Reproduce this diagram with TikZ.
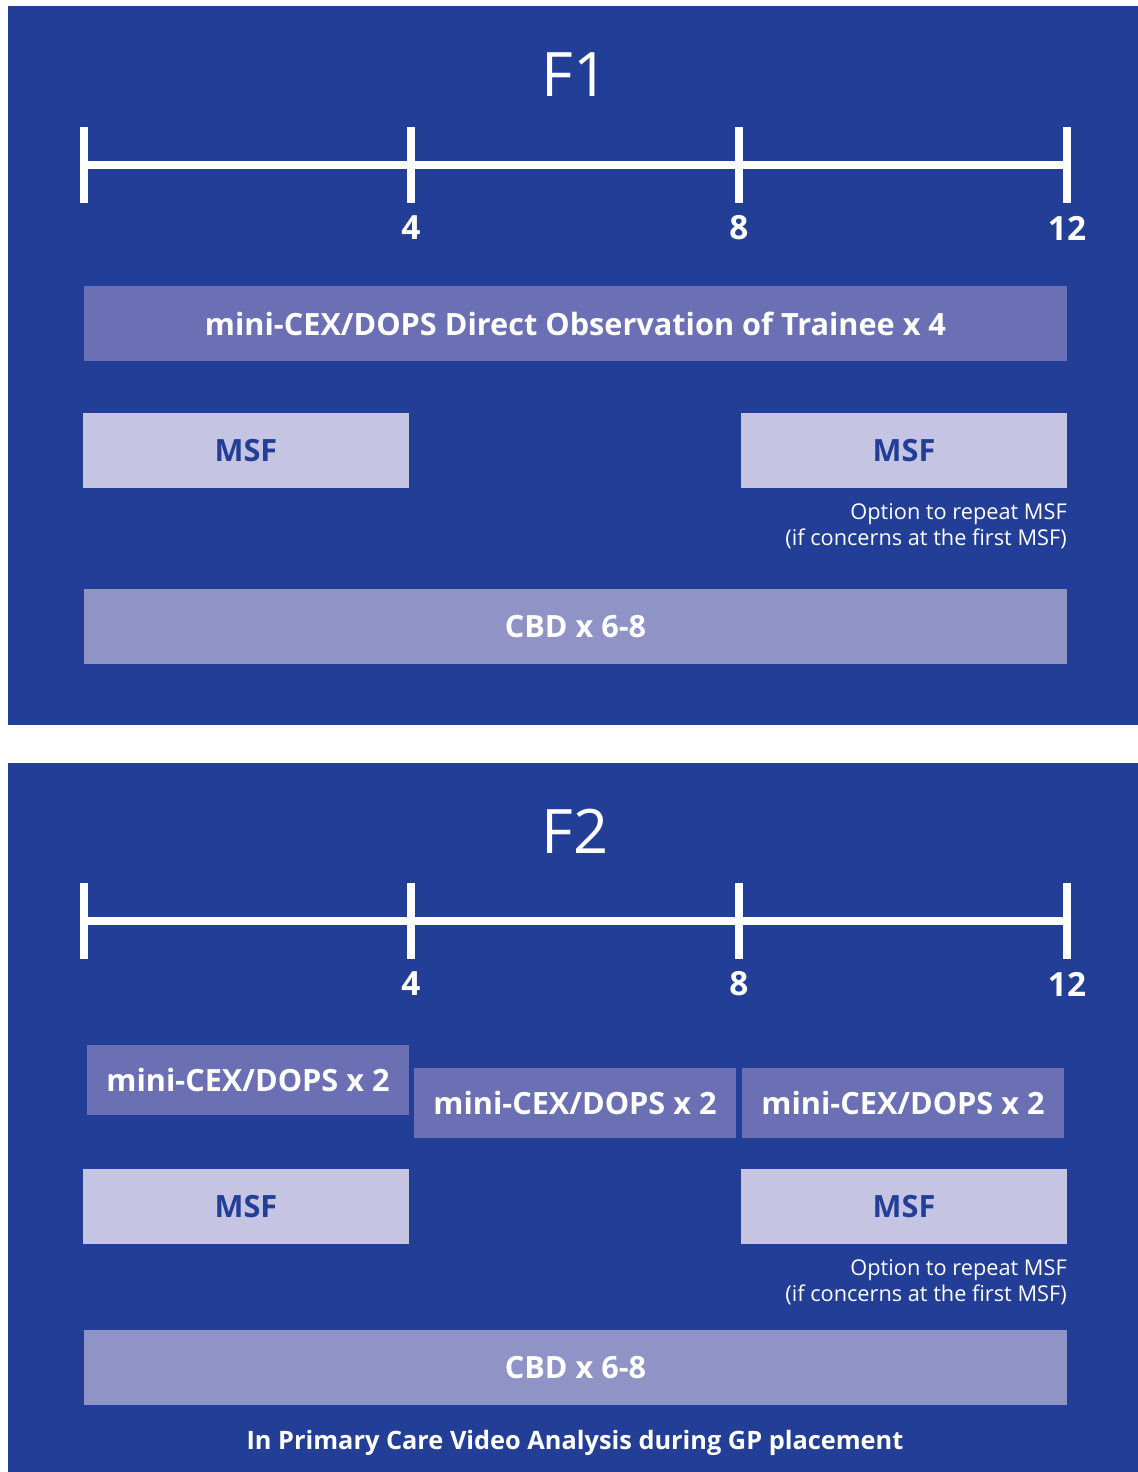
\documentclass[tikz,border=0pt]{standalone}
\usepackage{fontspec}
\setmainfont{Open Sans}
\definecolor{nhsblue}{RGB}{35,62,150}
\definecolor{obsbox}{RGB}{107,111,179}
\definecolor{msfbox}{RGB}{197,197,227}
\definecolor{cbdbox}{RGB}{144,147,198}
\begin{document}
\begin{tikzpicture}[x=0.75pt, y=-0.75pt,
	bar/.style={inner sep=0, minimum height=75*0.75pt, font=\bfseries\fontsize{23}{26}\selectfont},
	axis/.style={white, line width=8*0.75pt},
	tick/.style={white, font=\bfseries\fontsize{25}{28}\selectfont}]
	\useasboundingbox (0,0) rectangle (1138,1472);
	\fill[nhsblue] (8,6) rectangle (1138,725);
	\fill[nhsblue] (8,763) rectangle (1138,1472);
	
	% F1
	\node (fone) at (575,75) [white, font=\fontsize{46}{50}\selectfont] {F1};
	\draw[axis] (84,165) -- (1067,165);
	\draw[axis] (84,127) -- (84,203);
	\draw[axis] (411,127) -- (411,203);
	\draw[axis] (739,127) -- (739,203);
	\draw[axis] (1067,127) -- (1067,203);
	\node (fonefour) at (411,228) [tick] {4};
	\node (foneeight) at (739,228) [tick] {8};
	\node (fonetwelve) at (1067,228) [tick] {12};
	\node (dobs) at (575.5,323.5) [bar, fill=obsbox, text=white, minimum width=983*0.75pt] {mini-CEX/DOPS Direct Observation of Trainee x 4};
	\node (msfa) at (246,450.5) [bar, fill=msfbox, text=nhsblue, minimum width=326*0.75pt] {MSF};
	\node (msfb) at (904,450.5) [bar, fill=msfbox, text=nhsblue, minimum width=326*0.75pt] {MSF};
	\node (repone) at (1067,526) [anchor=east, inner sep=0, align=right, white, font=\fontsize{16.3}{19.5}\selectfont] {Option to repeat MSF\\(if concerns at the first MSF)};
	\node (cbdone) at (575.5,626.5) [bar, fill=cbdbox, text=white, minimum width=983*0.75pt] {CBD x 6-8};
	
	% F2
	\node (ftwo) at (575,831) [white, font=\fontsize{46}{50}\selectfont] {F2};
	\draw[axis] (84,921) -- (1067,921);
	\draw[axis] (84,883) -- (84,959);
	\draw[axis] (411,883) -- (411,959);
	\draw[axis] (739,883) -- (739,959);
	\draw[axis] (1067,883) -- (1067,959);
	\node (ftwofour) at (411,984) [tick] {4};
	\node (ftwoeight) at (739,984) [tick] {8};
	\node (ftwotwelve) at (1067,984) [tick] {12};
	\node (cexa) at (248,1080) [bar, fill=obsbox, text=white, minimum width=322*0.75pt, minimum height=70*0.75pt] {mini-CEX/DOPS x 2};
	\node (cexb) at (575,1103) [bar, fill=obsbox, text=white, minimum width=322*0.75pt, minimum height=70*0.75pt] {mini-CEX/DOPS x 2};
	\node (cexc) at (903,1103) [bar, fill=obsbox, text=white, minimum width=322*0.75pt, minimum height=70*0.75pt] {mini-CEX/DOPS x 2};
	\node (msfc) at (246,1206.5) [bar, fill=msfbox, text=nhsblue, minimum width=326*0.75pt] {MSF};
	\node (msfd) at (904,1206.5) [bar, fill=msfbox, text=nhsblue, minimum width=326*0.75pt] {MSF};
	\node (reptwo) at (1067,1282) [anchor=east, inner sep=0, align=right, white, font=\fontsize{16.3}{19.5}\selectfont] {Option to repeat MSF\\(if concerns at the first MSF)};
	\node (cbdtwo) at (575.5,1367.5) [bar, fill=cbdbox, text=white, minimum width=983*0.75pt] {CBD x 6-8};
	\node (video) at (575,1443) [white, font=\bfseries\fontsize{19}{22}\selectfont] {In Primary Care Video Analysis during GP placement};
\end{tikzpicture}
\end{document}
